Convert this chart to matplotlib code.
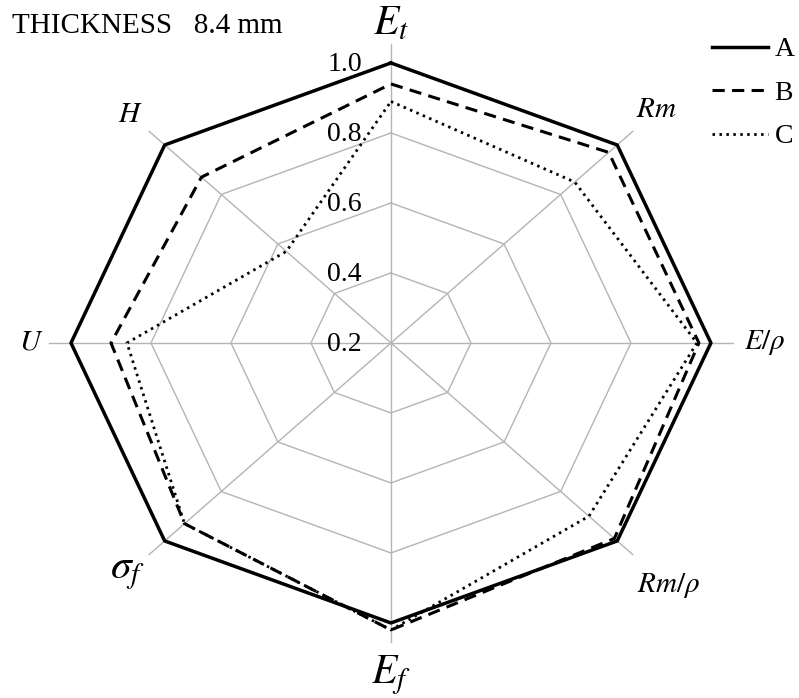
import numpy as np
import matplotlib
matplotlib.use("Agg")
import matplotlib.pyplot as plt

plt.rcParams['font.family'] = ['Liberation Serif', 'DejaVu Serif']
plt.rcParams['mathtext.fontset'] = 'stix'

# axes, clockwise from the top
labels = [r'$E_t$', r'$Rm$', r'$E/\rho$', r'$Rm/\rho$', r'$E_f$', r'$\sigma_f$', r'$U$', r'$H$']
label_r = [1.11, 1.14, 1.135, 1.18, 1.15, 1.13, 1.10, 1.12]
big = [True, False, False, False, True, True, False, False]

series_A = [1.00, 1.00, 1.00, 1.00, 1.00, 1.00, 1.00, 1.00]
series_B = [0.94, 0.97, 0.97, 0.99, 1.02, 0.93, 0.90, 0.87]
series_C = [0.89, 0.85, 0.965, 0.90, 1.02, 0.93, 0.86, 0.57]

rings = [0.4, 0.6, 0.8, 1.0]
tick_vals = [0.2, 0.4, 0.6, 0.8, 1.0]

n = len(labels)
theta = np.arange(n) * 2 * np.pi / n
theta_c = np.append(theta, theta[0])

def closed(v):
    return np.append(v, v[0])

fig = plt.figure(figsize=(7.99, 6.98), dpi=100)
ax = fig.add_axes([0.0588, 0.0774, 0.861, 0.8625], projection='polar')
ax.set_aspect('auto')
ax.set_theta_offset(np.pi / 2)
ax.set_theta_direction(-1)
ax.set_ylim(0.2, 1.06)
ax.grid(False)
ax.set_xticks([])
ax.set_yticks([])
ax.spines['polar'].set_visible(False)
ax.patch.set_alpha(0)

# grid octagons and spokes
for r in rings:
    ax.plot(theta_c, [r] * (n + 1), color='#b4b4b4', lw=1.0, zorder=1)
for t in theta:
    ax.plot([t, t], [0.2, 1.055], color='#b4b4b4', lw=1.0, zorder=1)

ax.plot(theta_c, closed(series_A), color='black', lw=2.5, zorder=4, label='A')
ax.plot(theta_c, closed(series_B), color='black', lw=2.2, linestyle=(0, (4, 2.4)),
        zorder=3, label='B')
ax.plot(theta_c, closed(series_C), color='black', lw=2.0, linestyle=(0, (0.9, 1.6)),
        zorder=3, label='C')

for t, lab, r, b in zip(theta, labels, label_r, big):
    ax.text(t, r, lab, ha='center', va='center', fontsize=30 if b else 21,
            clip_on=False)

for v in tick_vals:
    ax.annotate('%.1f' % v, xy=(0, v), xytext=(-29 * 0.72, -1),
                textcoords='offset points', ha='right', va='center', fontsize=20)

fig.text(12 / 799, 1 - 26 / 698, 'THICKNESS   8.4 mm', ha='left', va='center', fontsize=21)

fig.legend(loc='upper left', bbox_to_anchor=(712 / 799, 1 - 37 / 698), frameon=False,
           fontsize=20, handlelength=2.0, handletextpad=0.25, labelspacing=0.65,
           borderaxespad=0, borderpad=0)

fig.savefig('out.png', dpi=100)
